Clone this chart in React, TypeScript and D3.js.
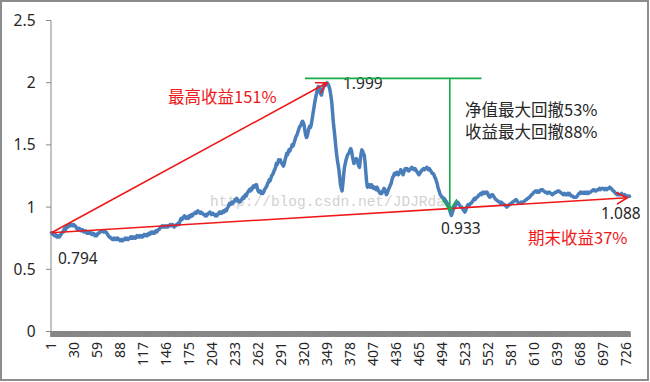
import React from 'react';
import * as d3 from 'd3';

// ---------- data ----------
const categories: number[] = d3.range(1, 732); // category axis 1..731
const xTickLabels = [1, 30, 59, 88, 117, 146, 175, 204, 233, 262, 291, 320, 349, 378, 407, 436, 465, 494, 523, 552, 581, 610, 639, 668, 697, 726];
const yTicks = [0, 0.5, 1, 1.5, 2, 2.5];

const navValues = [
  0.794,0.79,0.78,0.78,0.77,0.78,0.77,0.76,0.77,0.77,
  0.76,0.77,0.78,0.79,0.80,0.80,0.82,0.83,0.82,0.84,
  0.85,0.84,0.85,0.86,0.85,0.86,0.86,0.85,0.86,0.85,
  0.85,0.84,0.83,0.82,0.82,0.83,0.82,0.81,0.81,0.82,
  0.81,0.80,0.80,0.81,0.80,0.79,0.80,0.79,0.79,0.80,
  0.79,0.78,0.79,0.79,0.78,0.77,0.78,0.77,0.78,0.79,
  0.79,0.80,0.80,0.81,0.81,0.81,0.80,0.81,0.80,0.80,
  0.79,0.78,0.77,0.76,0.76,0.75,0.75,0.74,0.74,0.75,
  0.74,0.75,0.75,0.74,0.75,0.74,0.74,0.73,0.74,0.74,
  0.73,0.74,0.74,0.75,0.74,0.75,0.75,0.74,0.75,0.75,
  0.76,0.75,0.76,0.75,0.76,0.76,0.75,0.76,0.77,0.76,
  0.76,0.77,0.76,0.77,0.77,0.76,0.77,0.78,0.77,0.78,
  0.78,0.77,0.78,0.79,0.78,0.79,0.80,0.79,0.80,0.80,
  0.79,0.80,0.81,0.80,0.81,0.82,0.82,0.83,0.84,0.84,
  0.85,0.84,0.84,0.85,0.84,0.84,0.85,0.84,0.85,0.85,
  0.86,0.85,0.85,0.86,0.85,0.84,0.85,0.85,0.86,0.86,
  0.87,0.86,0.88,0.90,0.91,0.90,0.91,0.92,0.93,0.92,
  0.91,0.92,0.92,0.91,0.93,0.92,0.93,0.94,0.93,0.94,
  0.95,0.95,0.96,0.95,0.96,0.97,0.96,0.96,0.95,0.96,
  0.95,0.95,0.94,0.94,0.93,0.94,0.93,0.94,0.95,0.95,
  0.96,0.95,0.94,0.95,0.95,0.94,0.94,0.93,0.94,0.93,
  0.94,0.95,0.96,0.95,0.96,0.95,0.96,0.97,0.96,0.97,
  0.98,0.97,0.99,1.00,1.02,1.03,1.02,1.03,1.04,1.03,
  1.04,1.05,1.06,1.05,1.07,1.06,1.05,1.04,1.04,1.05,
  1.06,1.07,1.08,1.07,1.09,1.10,1.09,1.11,1.12,1.13,
  1.14,1.13,1.15,1.14,1.16,1.17,1.16,1.17,1.18,1.18,
  1.15,1.13,1.12,1.12,1.13,1.11,1.12,1.11,1.12,1.14,
  1.15,1.16,1.17,1.19,1.20,1.22,1.21,1.23,1.25,1.26,
  1.27,1.29,1.30,1.32,1.35,1.34,1.36,1.38,1.37,1.38,
  1.36,1.35,1.34,1.33,1.35,1.38,1.40,1.43,1.42,1.44,
  1.46,1.45,1.47,1.48,1.50,1.49,1.51,1.53,1.55,1.57,
  1.58,1.60,1.62,1.64,1.65,1.66,1.68,1.69,1.68,1.66,
  1.62,1.58,1.56,1.57,1.60,1.63,1.65,1.64,1.66,1.70,
  1.74,1.78,1.82,1.86,1.89,1.92,1.95,1.97,1.96,1.93,
  1.91,1.90,1.93,1.96,1.98,1.99,1.98,1.99,1.999,1.99,
  1.98,1.96,1.93,1.89,1.84,1.76,1.68,1.62,1.56,1.49,
  1.43,1.38,1.34,1.30,1.24,1.18,1.15,1.13,1.19,1.26,
  1.32,1.35,1.38,1.40,1.42,1.43,1.44,1.46,1.47,1.45,
  1.41,1.38,1.35,1.37,1.38,1.39,1.38,1.35,1.33,1.32,
  1.38,1.43,1.46,1.45,1.43,1.42,1.36,1.28,1.20,1.16,
  1.17,1.18,1.17,1.16,1.18,1.17,1.16,1.15,1.16,1.15,
  1.14,1.16,1.15,1.13,1.12,1.11,1.12,1.11,1.12,1.14,
  1.15,1.14,1.12,1.10,1.11,1.13,1.15,1.16,1.18,1.19,
  1.22,1.24,1.25,1.27,1.26,1.27,1.28,1.27,1.26,1.27,
  1.28,1.30,1.29,1.28,1.26,1.28,1.30,1.31,1.30,1.31,
  1.30,1.29,1.30,1.30,1.31,1.32,1.31,1.31,1.30,1.31,
  1.30,1.29,1.28,1.27,1.26,1.27,1.28,1.29,1.30,1.30,
  1.31,1.30,1.31,1.31,1.32,1.31,1.30,1.31,1.30,1.29,
  1.28,1.27,1.27,1.26,1.24,1.23,1.21,1.19,1.16,1.14,
  1.12,1.10,1.09,1.08,1.08,1.07,1.07,1.06,1.05,1.04,
  1.03,1.02,1.00,0.97,0.95,0.933,0.95,0.97,0.99,1.00,
  1.01,1.02,1.03,1.04,1.03,1.02,1.01,1.00,1.00,0.99,
  0.98,0.97,0.96,0.97,0.99,1.01,1.02,1.01,1.02,1.03,
  1.03,1.04,1.05,1.06,1.07,1.06,1.07,1.08,1.08,1.09,
  1.10,1.10,1.11,1.10,1.11,1.12,1.11,1.12,1.12,1.11,
  1.12,1.11,1.09,1.08,1.08,1.09,1.10,1.10,1.09,1.08,
  1.07,1.06,1.06,1.05,1.05,1.04,1.04,1.03,1.04,1.03,
  1.03,1.02,1.02,1.01,1.01,1.00,1.01,1.01,1.02,1.02,
  1.03,1.03,1.04,1.04,1.05,1.05,1.06,1.06,1.05,1.04,
  1.03,1.03,1.03,1.04,1.03,1.04,1.04,1.05,1.05,1.06,
  1.06,1.07,1.07,1.08,1.08,1.09,1.10,1.10,1.11,1.12,
  1.12,1.13,1.13,1.12,1.13,1.12,1.12,1.13,1.14,1.14,
  1.14,1.13,1.13,1.12,1.12,1.12,1.11,1.12,1.12,1.12,
  1.11,1.11,1.10,1.10,1.11,1.11,1.12,1.12,1.12,1.13,
  1.13,1.13,1.12,1.12,1.11,1.11,1.10,1.10,1.11,1.10,
  1.10,1.10,1.11,1.10,1.11,1.10,1.09,1.09,1.09,1.08,
  1.08,1.08,1.08,1.08,1.09,1.10,1.11,1.11,1.12,1.11,
  1.12,1.12,1.11,1.11,1.12,1.11,1.11,1.12,1.11,1.12,
  1.12,1.12,1.13,1.13,1.14,1.14,1.13,1.13,1.13,1.14,
  1.14,1.14,1.15,1.14,1.15,1.15,1.15,1.15,1.14,1.15,
  1.15,1.14,1.15,1.15,1.15,1.16,1.15,1.15,1.14,1.13,
  1.13,1.12,1.11,1.11,1.10,1.11,1.10,1.10,1.10,1.10,
  1.11,1.10,1.10,1.09,1.10,1.09,1.09,1.09,1.09,1.088,1.088,
];

// annotation anchors (category index, value)
const startPoint = { i: 1, v: 0.794 };
const peakPoint = { i: 349, v: 1.999 };
const troughPoint = { i: 506, v: 0.933 };
const endPoint = { i: 728, v: 1.075 };
const greenLevel = 2.035;
const greenSpan = [321, 544];
const greenDrop = { i: 504, v: 0.97 };
const watermark = 'http://blog.csdn.net/JDJRda';

// ---------- layout ----------
const W = 650, H = 382;
const left = 51, right = 630, top = 20.5, bottom = 331.5;
const FONT = '"Noto Sans", "Noto Sans CJK SC", sans-serif';
const CJK = '"Noto Sans CJK SC", "Noto Sans", sans-serif';
const RED = '#f01818';
const GREEN = '#14ad4a';
const BLUE = '#4a7ebb';
const AXIS = '#878787';

export default function App() {
  const x = d3.scaleBand<number>().domain(categories).range([left, right]).padding(0);
  const cx = (i: number) => (x(i) ?? 0) + x.bandwidth() / 2;
  const y = d3.scaleLinear().domain([0, 2.5]).range([bottom, top]);

  const pts = navValues.map((v, k) => [cx(categories[k]), y(v)] as [number, number]);
  const line = d3.line<[number, number]>().x(d => d[0]).y(d => d[1]);

  const tickXs = categories.map(c => x(c) ?? 0).concat([right]);

  return (
    <div style={{ position: 'fixed', left: 0, top: 0 }}>
      <svg width={W} height={H} xmlns="http://www.w3.org/2000/svg" style={{ display: 'block', background: '#fff' }}>
        <defs>
          <marker id="arrRed" markerUnits="userSpaceOnUse" markerWidth="14" markerHeight="14" refX="11" refY="6" orient="auto">
            <path d="M0,0 L11,6 L0,12" fill="none" stroke={RED} strokeWidth="1.6" />
          </marker>
          <marker id="arrGreen" markerUnits="userSpaceOnUse" markerWidth="16" markerHeight="16" refX="12" refY="7.5" orient="auto">
            <path d="M0,0 L12,7.5 L0,15" fill="none" stroke={GREEN} strokeWidth="1.8" />
          </marker>
        </defs>
        <rect x={1} y={1} width={W - 3} height={H - 3} fill="#fff" stroke="#8c8c8c" strokeWidth={2} />

        {/* y axis */}
        <line x1={left} x2={left} y1={top} y2={bottom} stroke={AXIS} strokeWidth={1} />
        {yTicks.map(t => (
          <g key={t}>
            <line x1={left - 5} x2={left} y1={y(t)} y2={y(t)} stroke={AXIS} strokeWidth={1} />
            <text x={35.5} y={y(t)} dy="0.36em" textAnchor="end" fontFamily={FONT} fontSize={15.5} fill="#262626">{t}</text>
          </g>
        ))}

        {/* x axis with dense category ticks */}
        <line x1={left} x2={right} y1={bottom} y2={bottom} stroke={AXIS} strokeWidth={1} />
        <g stroke={AXIS} strokeWidth={1.7}>
          {tickXs.map((tx, k) => (
            <line key={k} x1={tx} x2={tx} y1={bottom} y2={bottom + 5.5} />
          ))}
        </g>
        {xTickLabels.map(l => (
          <text key={l} transform={`translate(${cx(l)},342) rotate(-90)`} dy="0.36em" textAnchor="end"
            fontFamily={FONT} fontSize={14} fill="#262626">{l}</text>
        ))}

        {/* watermark */}
        <text x={210} y={205.5} fontFamily='"Liberation Mono", monospace' fontSize={14.5} fill="#d2d2d2">{watermark}</text>

        {/* series */}
        <path d={line(pts) ?? ''} fill="none" stroke={BLUE} strokeWidth={3.5} strokeLinejoin="round" strokeLinecap="round" />

        {/* red arrows */}
        <line x1={cx(startPoint.i)} y1={y(startPoint.v)} x2={cx(peakPoint.i)} y2={y(peakPoint.v)} stroke={RED} strokeWidth={1.6} markerEnd="url(#arrRed)" />
        <line x1={cx(startPoint.i)} y1={y(startPoint.v)} x2={cx(endPoint.i)} y2={y(endPoint.v)} stroke={RED} strokeWidth={1.6} markerEnd="url(#arrRed)" />

        {/* green drawdown */}
        <text x={343} y={89} fontFamily={FONT} fontSize={15.5} fill="#262626">{peakPoint.v.toFixed(3)}</text>
        <line x1={cx(greenSpan[0])} x2={cx(greenSpan[1])} y1={y(greenLevel)} y2={y(greenLevel)} stroke={GREEN} strokeWidth={1.6} />
        <line x1={cx(greenDrop.i)} x2={cx(greenDrop.i)} y1={y(greenLevel)} y2={y(greenDrop.v)} stroke={GREEN} strokeWidth={1.6} markerEnd="url(#arrGreen)" />

        {/* labels */}
        <text x={58} y={264} fontFamily={FONT} fontSize={15.5} fill="#262626">{startPoint.v.toFixed(3)}</text>
        <text x={441} y={234} fontFamily={FONT} fontSize={15.5} fill="#262626">{troughPoint.v.toFixed(3)}</text>
        <text x={601} y={219} fontFamily={FONT} fontSize={15.5} fill="#262626">{navValues[navValues.length - 1].toFixed(3)}</text>
        <text x={168} y={103} fontFamily={CJK} fontSize={16.5} fill={RED}>最高收益151%</text>
        <text x={528} y={244} fontFamily={CJK} fontSize={16.5} fill={RED}>期末收益37%</text>
        <text x={465} y={116} fontFamily={CJK} fontSize={16.5} fill="#262626">净值最大回撤53%</text>
        <text x={465} y={138} fontFamily={CJK} fontSize={16.5} fill="#262626">收益最大回撤88%</text>
      </svg>
    </div>
  );
}
